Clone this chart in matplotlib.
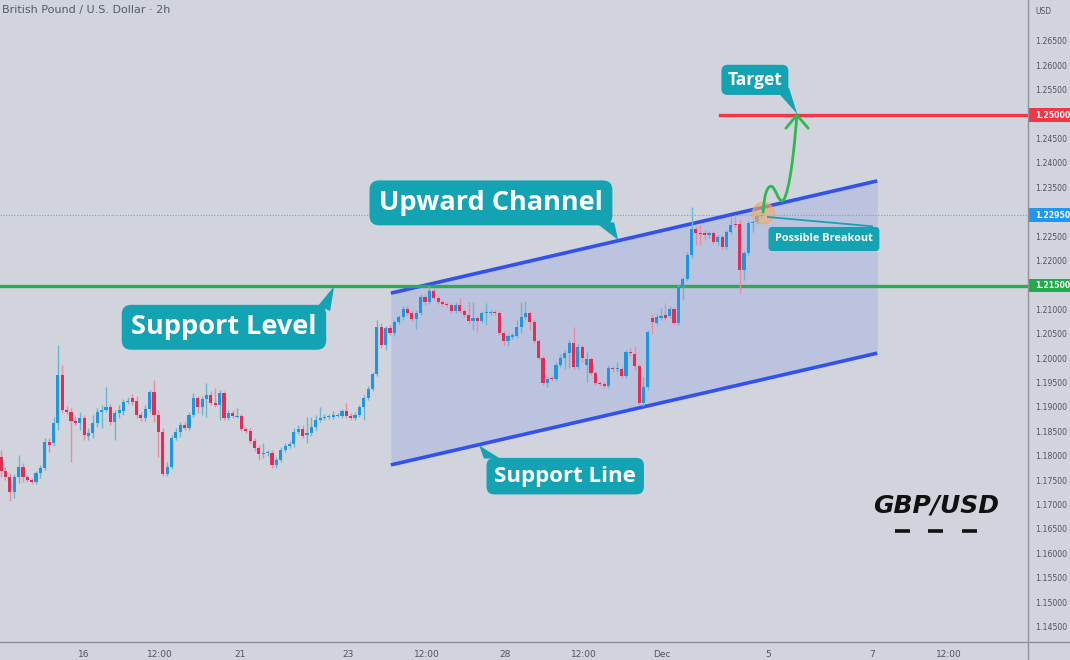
import matplotlib
matplotlib.use("Agg")
import matplotlib.pyplot as plt
import matplotlib.transforms as mtransforms
from matplotlib.patches import Polygon, Ellipse, PathPatch, Rectangle
from matplotlib.path import Path

# ---------------- data (GBP/USD, 2h candles) ----------------
opens = [1.1799, 1.1770, 1.1758, 1.1727, 1.1758, 1.1779, 1.1758, 1.1752, 1.1748, 1.1766,
         1.1777, 1.1830, 1.1828, 1.1869, 1.1967, 1.1895, 1.1891, 1.1873, 1.1869, 1.1879,
         1.1842, 1.1848, 1.1869, 1.1891, 1.1895, 1.1902, 1.1871, 1.1889, 1.1893, 1.1912,
         1.1920, 1.1914, 1.1885, 1.1879, 1.1897, 1.1932, 1.1885, 1.1850, 1.1764, 1.1779,
         1.1838, 1.1850, 1.1865, 1.1858, 1.1885, 1.1920, 1.1902, 1.1918, 1.1926, 1.1910,
         1.1906, 1.1930, 1.1879, 1.1889, 1.1881, 1.1883, 1.1856, 1.1852, 1.1832, 1.1817,
         1.1805, 1.1807, 1.1807, 1.1783, 1.1793, 1.1813, 1.1822, 1.1826, 1.1850, 1.1856,
         1.1844, 1.1848, 1.1861, 1.1875, 1.1879, 1.1881, 1.1881, 1.1883, 1.1883, 1.1893,
         1.1883, 1.1879, 1.1885, 1.1902, 1.1920, 1.1938, 1.1969, 1.2066, 1.2028, 1.2063,
         1.2053, 1.2076, 1.2086, 1.2103, 1.2094, 1.2082, 1.2094, 1.2127, 1.2117, 1.2139,
         1.2125, 1.2117, 1.2113, 1.2111, 1.2098, 1.2111, 1.2098, 1.2090, 1.2078, 1.2084,
         1.2078, 1.2094, 1.2094, 1.2096, 1.2094, 1.2053, 1.2037, 1.2045, 1.2047, 1.2066,
         1.2086, 1.2094, 1.2076, 1.2037, 1.2002, 1.1951, 1.1961, 1.1959, 1.1988, 1.2002,
         1.2012, 1.2033, 1.1983, 1.2024, 1.1988, 1.2000, 1.1971, 1.1951, 1.1949, 1.1944,
         1.1981, 1.1979, 1.1979, 1.1965, 1.2014, 1.2010, 1.1986, 1.1910, 1.1943, 1.2084,
         1.2074, 1.2084, 1.2090, 1.2088, 1.2103, 1.2074, 1.2148, 1.2164, 1.2213, 1.2266,
         1.2258, 1.2258, 1.2254, 1.2258, 1.2240, 1.2250, 1.2229, 1.2260, 1.2276, 1.2276,
         1.2182, 1.2217, 1.2279, 1.2281, 1.2293]
highs = [1.1813, 1.1779, 1.1766, 1.1764, 1.1803, 1.1787, 1.1762, 1.1756, 1.1770, 1.1783,
         1.1838, 1.1838, 1.1881, 1.2029, 1.1988, 1.1904, 1.1899, 1.1883, 1.1891, 1.1885,
         1.1858, 1.1885, 1.1899, 1.1906, 1.1943, 1.1908, 1.1895, 1.1906, 1.1918, 1.1922,
         1.1928, 1.1924, 1.1891, 1.1906, 1.1936, 1.1957, 1.1895, 1.1858, 1.1789, 1.1844,
         1.1858, 1.1871, 1.1871, 1.1891, 1.1930, 1.1924, 1.1924, 1.1951, 1.1934, 1.1940,
         1.1936, 1.1934, 1.1895, 1.1895, 1.1899, 1.1887, 1.1861, 1.1858, 1.1838, 1.1824,
         1.1828, 1.1813, 1.1813, 1.1799, 1.1819, 1.1828, 1.1832, 1.1858, 1.1865, 1.1865,
         1.1881, 1.1881, 1.1885, 1.1902, 1.1887, 1.1887, 1.1893, 1.1889, 1.1897, 1.1910,
         1.1889, 1.1891, 1.1906, 1.1926, 1.1944, 1.1973, 1.2080, 1.2074, 1.2067, 1.2070,
         1.2080, 1.2090, 1.2109, 1.2109, 1.2100, 1.2100, 1.2133, 1.2133, 1.2150, 1.2146,
         1.2129, 1.2121, 1.2117, 1.2115, 1.2117, 1.2125, 1.2102, 1.2117, 1.2117, 1.2088,
         1.2098, 1.2115, 1.2100, 1.2100, 1.2098, 1.2057, 1.2051, 1.2053, 1.2080, 1.2117,
         1.2119, 1.2098, 1.2080, 1.2041, 1.2006, 1.1963, 1.1965, 1.1994, 1.2010, 1.2018,
         1.2039, 1.2066, 1.2030, 1.2028, 1.2014, 1.2004, 1.1975, 1.1955, 1.1953, 1.1988,
         1.1986, 1.1994, 1.1983, 1.2018, 1.2022, 1.2026, 1.1990, 1.1963, 1.2059, 1.2092,
         1.2092, 1.2104, 1.2115, 1.2109, 1.2107, 1.2154, 1.2168, 1.2219, 1.2311, 1.2272,
         1.2274, 1.2264, 1.2262, 1.2262, 1.2254, 1.2254, 1.2264, 1.2291, 1.2295, 1.2287,
         1.2221, 1.2283, 1.2285, 1.2299, 1.2301]
lows = [1.1758, 1.1752, 1.1709, 1.1715, 1.1746, 1.1748, 1.1748, 1.1744, 1.1744, 1.1756,
        1.1772, 1.1809, 1.1822, 1.1854, 1.1891, 1.1887, 1.1789, 1.1865, 1.1854, 1.1834,
        1.1834, 1.1838, 1.1861, 1.1858, 1.1891, 1.1865, 1.1834, 1.1879, 1.1885, 1.1908,
        1.1906, 1.1879, 1.1873, 1.1873, 1.1891, 1.1871, 1.1799, 1.1760, 1.1760, 1.1775,
        1.1834, 1.1840, 1.1854, 1.1854, 1.1881, 1.1889, 1.1885, 1.1881, 1.1906, 1.1902,
        1.1875, 1.1875, 1.1875, 1.1879, 1.1879, 1.1852, 1.1848, 1.1828, 1.1811, 1.1793,
        1.1797, 1.1801, 1.1777, 1.1777, 1.1789, 1.1809, 1.1817, 1.1819, 1.1846, 1.1838,
        1.1828, 1.1842, 1.1854, 1.1871, 1.1875, 1.1877, 1.1877, 1.1881, 1.1879, 1.1879,
        1.1875, 1.1875, 1.1881, 1.1875, 1.1916, 1.1934, 1.1965, 1.2022, 1.2018, 1.2049,
        1.2047, 1.2072, 1.2080, 1.2088, 1.2078, 1.2061, 1.2090, 1.2111, 1.2113, 1.2121,
        1.2113, 1.2109, 1.2107, 1.2094, 1.2094, 1.2094, 1.2086, 1.2074, 1.2059, 1.2055,
        1.2074, 1.2070, 1.2090, 1.2090, 1.2049, 1.2028, 1.2026, 1.2041, 1.2043, 1.2053,
        1.2082, 1.2059, 1.2033, 1.1998, 1.1947, 1.1943, 1.1955, 1.1955, 1.1983, 1.1979,
        1.1981, 1.1979, 1.1979, 1.1994, 1.1953, 1.1967, 1.1947, 1.1944, 1.1940, 1.1940,
        1.1973, 1.1973, 1.1961, 1.1961, 1.2006, 1.1977, 1.1906, 1.1904, 1.1936, 1.2051,
        1.2070, 1.2080, 1.2080, 1.2084, 1.2070, 1.2070, 1.2121, 1.2160, 1.2207, 1.2233,
        1.2233, 1.2244, 1.2248, 1.2236, 1.2233, 1.2225, 1.2225, 1.2256, 1.2270, 1.2135,
        1.2162, 1.2213, 1.2260, 1.2276, 1.2289]
closes = [1.1770, 1.1758, 1.1727, 1.1758, 1.1779, 1.1758, 1.1752, 1.1748, 1.1766, 1.1777,
          1.1830, 1.1824, 1.1869, 1.1967, 1.1895, 1.1891, 1.1873, 1.1869, 1.1879, 1.1844,
          1.1848, 1.1869, 1.1891, 1.1895, 1.1902, 1.1871, 1.1889, 1.1895, 1.1912, 1.1914,
          1.1912, 1.1885, 1.1879, 1.1897, 1.1932, 1.1885, 1.1850, 1.1764, 1.1779, 1.1838,
          1.1850, 1.1865, 1.1858, 1.1885, 1.1920, 1.1902, 1.1918, 1.1926, 1.1910, 1.1906,
          1.1930, 1.1879, 1.1889, 1.1883, 1.1883, 1.1856, 1.1852, 1.1832, 1.1817, 1.1805,
          1.1807, 1.1809, 1.1783, 1.1793, 1.1813, 1.1822, 1.1826, 1.1850, 1.1856, 1.1842,
          1.1848, 1.1861, 1.1875, 1.1879, 1.1881, 1.1883, 1.1885, 1.1885, 1.1893, 1.1883,
          1.1879, 1.1885, 1.1902, 1.1920, 1.1938, 1.1969, 1.2066, 1.2028, 1.2063, 1.2053,
          1.2076, 1.2086, 1.2103, 1.2094, 1.2082, 1.2094, 1.2127, 1.2117, 1.2139, 1.2125,
          1.2117, 1.2113, 1.2111, 1.2098, 1.2111, 1.2098, 1.2090, 1.2078, 1.2084, 1.2078,
          1.2094, 1.2095, 1.2096, 1.2094, 1.2053, 1.2037, 1.2047, 1.2049, 1.2066, 1.2086,
          1.2094, 1.2076, 1.2037, 1.2002, 1.1951, 1.1959, 1.1959, 1.1988, 1.2002, 1.2012,
          1.2033, 1.1983, 1.2024, 1.2002, 1.2000, 1.1971, 1.1951, 1.1949, 1.1944, 1.1981,
          1.1979, 1.1980, 1.1965, 1.2014, 1.2012, 1.1986, 1.1910, 1.1943, 1.2055, 1.2076,
          1.2086, 1.2088, 1.2084, 1.2103, 1.2074, 1.2148, 1.2164, 1.2213, 1.2266, 1.2258,
          1.2256, 1.2254, 1.2258, 1.2240, 1.2250, 1.2229, 1.2260, 1.2274, 1.2274, 1.2182,
          1.2217, 1.2279, 1.2281, 1.2293, 1.2295]

time_tick_pos = [19.0, 36.4, 54.7, 79.4, 97.5, 115.3, 133.4, 151.3, 175.5, 199.3, 216.9]
time_tick_labels = ["16", "12:00", "21", "23", "12:00", "28", "12:00", "Dec", "5", "7", "12:00"]
price_ticks = [1.145, 1.150, 1.155, 1.160, 1.165, 1.170, 1.175, 1.180, 1.185, 1.190,
               1.195, 1.200, 1.205, 1.210, 1.220, 1.225, 1.235, 1.240,
               1.245, 1.255, 1.260, 1.265]

support_level = 1.2150
target_level = 1.2500
last_price = 1.2295
channel_x = [89.2, 200.5]
channel_upper = [1.2135, 1.2365]
channel_lower = [1.1783, 1.2012]

# ---------------- style ----------------
BG = "#d1d4dc"
UP = "#1e96e0"
DOWN = "#e22d56"
UP_WICK = "#6bb6cf"
DOWN_WICK = "#ec8aa0"
TEAL = "#14a3b3"
CH_BLUE = "#3152f0"
GREEN = "#27ae4f"
RED = "#f23645"
AX_TXT = "#50535e"

W, H = 1070, 660
fig = plt.figure(figsize=(W / 100, H / 100), dpi=100)
fig.patch.set_facecolor(BG)
ax = fig.add_axes([0, 18 / H, 1028 / W, 642 / H])
ax.set_facecolor(BG)
ax.set_xlim(-0.25, 235.0)
ax.set_ylim(1.14201, 1.27357)
for s in ["top", "left", "right", "bottom"]:
    ax.spines[s].set_visible(False)
ax.set_yticks([])
ax.set_xticks(time_tick_pos)
ax.set_xticklabels(time_tick_labels, fontsize=6.5, color=AX_TXT)
ax.tick_params(axis="x", length=0, pad=6)

# axis frame lines (figure coords)
fig.add_artist(plt.Line2D([0, 1], [18 / H, 18 / H], color="#8f929b", lw=1.0))
fig.add_artist(plt.Line2D([1028 / W, 1028 / W], [0, 1], color="#8f929b", lw=1.0))

# channel fill and lines
ax.fill_between(channel_x, channel_lower, channel_upper, color="#bcc3de", zorder=1, lw=0)
ax.plot(channel_x, channel_upper, color=CH_BLUE, lw=2.6, zorder=4, solid_capstyle="butt")
ax.plot(channel_x, channel_lower, color=CH_BLUE, lw=2.6, zorder=4, solid_capstyle="butt")

# horizontal levels
ax.axhline(last_price, color="#4a9be8", lw=0.8, ls=(0, (1, 1.5)), zorder=2, alpha=0.8)
ax.axhline(support_level, color=GREEN, lw=2.4, zorder=5)
ax.plot([164.5, 235.0], [target_level, target_level], color=RED, lw=2.4, zorder=5)

# candles
n = len(opens)
for i in range(n):
    o, h, l, c = opens[i], highs[i], lows[i], closes[i]
    up = c >= o
    ax.vlines(i, l, h, color=UP_WICK if up else DOWN_WICK, lw=1.0, zorder=6)
    lo = min(o, c)
    hgt = max(abs(c - o), 0.00018)
    ax.bar(i, hgt, bottom=lo, width=0.72, color=UP if up else DOWN, lw=0, zorder=7)

# ---------------- annotations ----------------
FONT = "Open Sans"


def callout(x, y, text, size, tail, pad=0.35):
    ax.text(x, y, text, ha="center", va="center", fontsize=size, color="white",
            fontweight="bold", family=FONT, zorder=12,
            bbox=dict(boxstyle=f"round,pad={pad},rounding_size=0.35", fc=TEAL, ec="none"))
    if tail:
        ax.add_patch(Polygon(tail, closed=True, fc=TEAL, ec="none", zorder=11))


callout(112.1, 1.2320, "Upward Channel", 19.5, [(136.0, 1.2280), (140.3, 1.2280), (141.2, 1.2244)])
callout(51.0, 1.2065, "Support Level", 19.5, [(72.6, 1.2110), (75.3, 1.2098), (76.2, 1.2149)])
callout(129.1, 1.1760, "Support Line", 16, [(110.5, 1.1796), (114.2, 1.1796), (109.4, 1.1823)])
callout(172.5, 1.2572, "Target", 12.5, [(178.3, 1.2541), (180.3, 1.2556), (182.2, 1.2502)])
callout(188.3, 1.2246, "Possible Breakout", 7.8, None, pad=0.6)

# pointer line from circle to "Possible Breakout"
ax.plot([175.5, 199.3], [1.2291, 1.2272], color=TEAL, lw=1.3, zorder=10)

# orange circle
ax.add_patch(Ellipse((174.4, 1.2299), 4.9, 0.0043, fc="#f5b06a", ec="#f3a64f", alpha=0.6,
                     lw=1.3, zorder=9))

# green projected path
verts = [(174.4, 1.2301), (174.6, 1.2336), (175.3, 1.2354), (176.2, 1.2354),
         (177.1, 1.2354), (177.8, 1.2324), (178.7, 1.2324),
         (179.8, 1.2324), (181.2, 1.2387), (182.1, 1.2500)]
codes = [Path.MOVETO, Path.CURVE4, Path.CURVE4, Path.CURVE4,
         Path.CURVE4, Path.CURVE4, Path.CURVE4,
         Path.CURVE4, Path.CURVE4, Path.CURVE4]
ax.add_patch(PathPatch(Path(verts, codes), fc="none", ec="#2fb84e", lw=2.0, zorder=10,
                       capstyle="round"))
ax.plot([179.6, 182.1, 184.7], [1.2473, 1.2500, 1.2473], color="#2fb84e", lw=2.0,
        zorder=10, solid_capstyle="round", solid_joinstyle="miter")

# GBP/USD label
ax.text(214.0, 1.1700, "GBP/USD", ha="center", va="center", fontsize=18, fontweight="bold",
        fontstyle="italic", family="DejaVu Sans", color="#111111", zorder=12)
for x0, x1 in [(204.6, 208.0), (212.1, 215.6), (219.9, 223.3)]:
    ax.plot([x0, x1], [1.1647, 1.1647], color="#111111", lw=2.6, zorder=12, solid_capstyle="butt")

# ---------------- price axis ----------------
blend = mtransforms.blended_transform_factory(ax.transAxes, ax.transData)
x_ax0 = 1029 / 1028
x_ax1 = 1070 / 1028
x_txt = 1035 / 1028
for p in price_ticks:
    ax.text(x_txt, p, f"{p:.5f}", transform=blend, fontsize=5.6, color=AX_TXT,
            va="center", ha="left", clip_on=False)
box_h = 0.0027
for p, col in [(target_level, RED), (last_price, "#2196f3"), (support_level, "#22ab4a")]:
    ax.add_patch(Rectangle((x_ax0, p - box_h / 2), x_ax1 - x_ax0, box_h, transform=blend,
                           fc=col, ec="none", clip_on=False, zorder=20))
    ax.text(x_txt, p, f"{p:.5f}", transform=blend, fontsize=5.6, color="white",
            fontweight="bold", va="center", ha="left", clip_on=False, zorder=21)

fig.text(1035 / W, 1 - 11 / H, "USD", fontsize=5.5, color=AX_TXT, ha="left", va="center")
fig.text(2 / W, 1 - 10 / H, "British Pound / U.S. Dollar \u00b7 2h", fontsize=8,
         color="#555a66", ha="left", va="center")

fig.savefig("out.png", dpi=100, facecolor=BG)
